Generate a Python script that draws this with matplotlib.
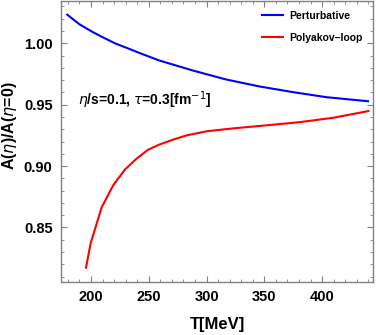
import numpy as np
import matplotlib
matplotlib.use("Agg")
import matplotlib.pyplot as plt
from matplotlib.ticker import MultipleLocator, FormatStrFormatter

plt.rcParams['font.family'] = ['Liberation Sans', 'DejaVu Sans']
plt.rcParams['mathtext.fontset'] = 'dejavusans'

# datos
T_pert = [179.5, 190, 202, 210, 220.7, 230.8, 245, 259.4, 288.2, 317, 346, 374.9, 403.7, 439.7]
A_pert = [1.0233, 1.0155, 1.0089, 1.0050, 1.0000, 0.9963, 0.9910, 0.9859, 0.9778, 0.9705, 0.9648, 0.9602, 0.9561, 0.9528]

T_poly = [195.7, 199.7, 209.2, 219.3, 229.4, 239.5, 249.6, 259.7, 271, 282.7, 300, 323, 352, 381, 410, 440]
A_poly = [0.8172, 0.8370, 0.8663, 0.8844, 0.8972, 0.9061, 0.9134, 0.9177, 0.9215, 0.9250, 0.9283, 0.9307, 0.9332, 0.9358, 0.9394, 0.9448]

fig = plt.figure(figsize=(3.76, 3.35), dpi=100)
ax = fig.add_axes([0.162, 0.159, 0.830, 0.839])

ax.plot(T_pert, A_pert, color='#0000ff', lw=1.5, label='Perturbative')
ax.plot(T_poly, A_poly, color='#ff0000', lw=1.5, label='Polyakov\u2013loop')

ax.set_xlim(174, 444)
ax.set_ylim(0.8058, 1.0347)

ax.xaxis.set_major_locator(MultipleLocator(50))
ax.xaxis.set_minor_locator(MultipleLocator(10))
ax.yaxis.set_major_locator(MultipleLocator(0.05))
ax.yaxis.set_minor_locator(MultipleLocator(0.01))
ax.yaxis.set_major_formatter(FormatStrFormatter('%.2f'))

for s in ax.spines.values():
    s.set_color('#808080')
    s.set_linewidth(1.0)
ax.tick_params(which='both', direction='in', top=True, right=True, color='#808080')
ax.tick_params(which='major', length=4, width=0.8, labelsize=10.5, pad=6)
ax.tick_params(which='minor', length=2, width=0.6)
for lab in ax.get_xticklabels() + ax.get_yticklabels():
    lab.set_fontweight('bold')

# etiquetas de ejes en pixeles de la figura
fig.text(217 / 376, 1 - 325 / 335, 'T[MeV]', fontsize=12, fontweight='bold',
         ha='center', va='center')
fig.text(10 / 376, 1 - 126 / 335, r'A($\eta$)/A($\eta$=0)', fontsize=11.5,
         fontweight='bold', rotation=90, ha='center', va='center')

fig.text(78 / 376, 1 - 100 / 335, r'$\eta$/s=0.1, $\tau$=0.3[fm$^{-1}$]',
         fontsize=10, fontweight='bold', va='center')

ax.legend(loc='upper right', frameon=False, handlelength=2.0,
          handletextpad=0.6, labelspacing=1.1, borderaxespad=0.6,
          prop={'weight': 'bold', 'size': 7.5})

fig.savefig('out.png', dpi=100)
